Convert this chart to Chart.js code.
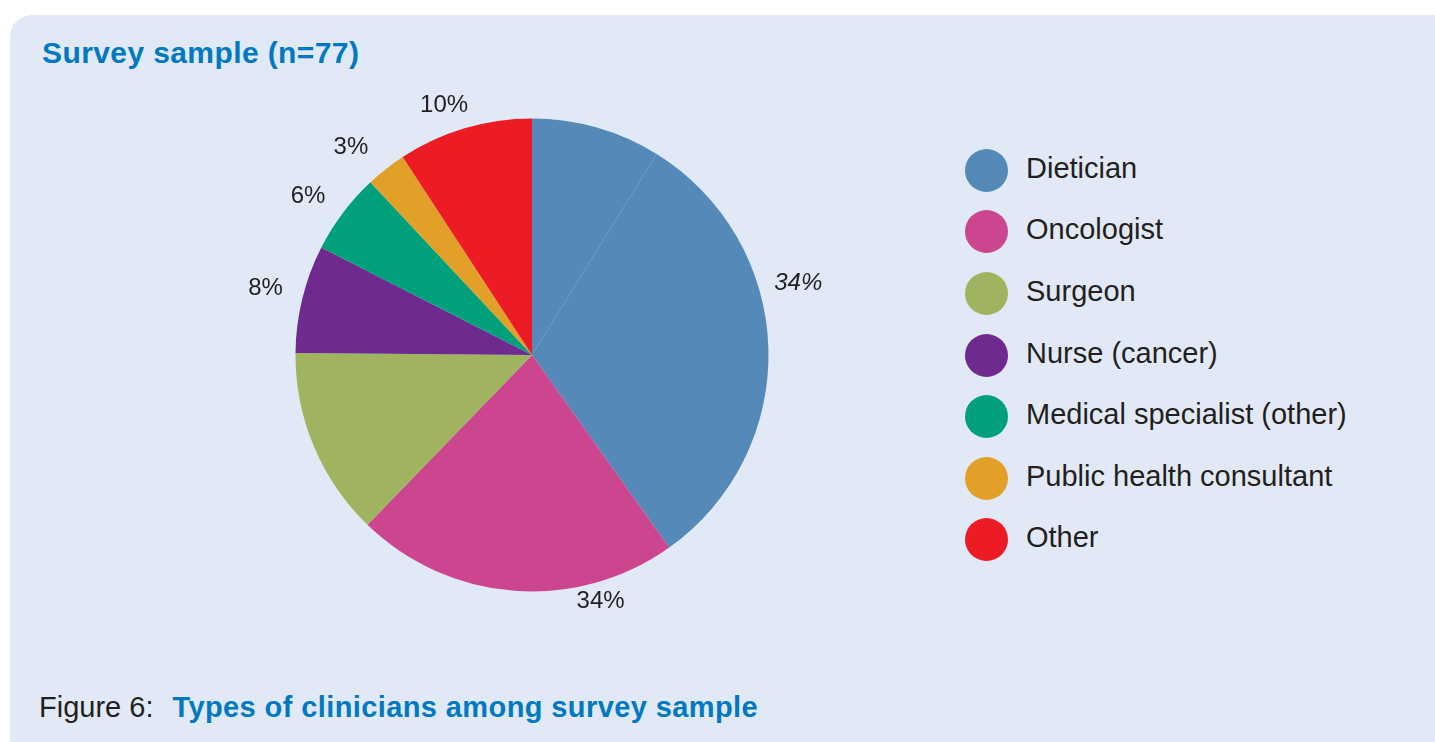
<!DOCTYPE html>
<html lang="en">
<head>
    <meta charset="UTF-8">
    <meta name="viewport" content="width=device-width, initial-scale=1.0">
    <title>Types of clinicians among survey sample</title>
    <style>
        :root {
            --panel-color: #e1e9f6;
            --title-color: #0079c2;
            --text-color: #231f20;
        }
        body {
            margin: 0;
            width: 1435px;
            height: 742px;
            overflow: hidden;
            background: #ffffff;
            font-family: 'Liberation Sans', Arial, sans-serif;
            color: var(--text-color);
        }
        .panel {
            position: absolute;
            left: 10px;
            top: 15px;
            right: 0;
            bottom: 0;
            background: var(--panel-color);
            border-top-left-radius: 22px;
        }
        .title {
            position: absolute;
            left: 42px;
            top: 38px;
            font-size: 30px;
            line-height: 30px;
            font-weight: bold;
            letter-spacing: 0.4px;
            color: var(--title-color);
            white-space: nowrap;
        }
        .chart-box {
            position: absolute;
            left: 201px;
            top: 70px;
            width: 662px;
            height: 570px;
        }
        #legend {
            position: absolute;
            left: 965px;
            top: 139.5px;
        }
        #legend ul {
            list-style: none;
            margin: 0;
            padding: 0;
        }
        #legend li {
            display: flex;
            align-items: center;
            height: 61.6px;
            font-size: 29px;
            white-space: nowrap;
        }
        #legend .dot {
            width: 43px;
            height: 43px;
            border-radius: 50%;
            margin-right: 18px;
            flex: none;
        }
        #legend .name {
            position: relative;
            top: -2px;
        }
        .caption {
            position: absolute;
            left: 39px;
            top: 693px;
            font-size: 29px;
            line-height: 29px;
            white-space: nowrap;
        }
        .caption b {
            margin-left: 19px;
            letter-spacing: 0.4px;
            color: var(--title-color);
        }
    </style>
    <script src="https://cdn.jsdelivr.net/npm/chart.js@4/dist/chart.umd.min.js"></script>
</head>
<body>
    <div class="panel"></div>
    <div class="title">Survey sample (n=77)</div>
    <div class="chart-box"><canvas id="clinicianPie"></canvas></div>
    <div id="legend"></div>
    <div class="caption">Figure 6:<b>Types of clinicians among survey sample</b></div>

    <script>
        // Dietician is drawn as two touching blue pieces, hence the repeated name
        const categories = ['Dietician', 'Dietician', 'Oncologist', 'Surgeon', 'Nurse (cancer)',
            'Medical specialist (other)', 'Public health consultant', 'Other'];
        const shares = [9.6, 34, 24, 14, 8, 6, 3, 10];
        const sliceColours = ['#5589b8', '#5589b8', '#cb468f', '#a0b45f', '#6e2a8f',
            '#00a07a', '#e3a028', '#ed1c24'];

        // Where the percentage labels sit: slice index, angle clockwise from 12 o'clock, distance from centre
        const labelSpots = [
            { index: 1, angle: 74.7, dist: 276, italic: true },
            { index: 1, angle: 164.4, dist: 255 },
            { index: 4, angle: 284.3, dist: 275 },
            { index: 5, angle: 305.5, dist: 275 },
            { index: 6, angle: 319.0, dist: 276 },
            { index: 7, angle: 340.7, dist: 266 }
        ];

        // Builds the legend as a plain list next to the canvas, one row per category
        const htmlLegend = {
            id: 'htmlLegend',
            afterUpdate(chart) {
                const box = document.getElementById('legend');
                box.innerHTML = '';
                const ul = document.createElement('ul');
                const seen = new Set();
                chart.options.plugins.legend.labels.generateLabels(chart).forEach(item => {
                    if (seen.has(item.text)) return;
                    seen.add(item.text);
                    const li = document.createElement('li');
                    const dot = document.createElement('span');
                    dot.className = 'dot';
                    dot.style.background = item.fillStyle;
                    const name = document.createElement('span');
                    name.className = 'name';
                    name.textContent = item.text;
                    li.appendChild(dot);
                    li.appendChild(name);
                    ul.appendChild(li);
                });
                box.appendChild(ul);
            }
        };

        // Writes "n%" outside the pie for the slices that carry a label
        const sliceLabels = {
            id: 'sliceLabels',
            afterDatasetsDraw(chart, args, opts) {
                const arc = chart.getDatasetMeta(0).data[0];
                const { x, y } = arc;
                const ctx = chart.ctx;
                ctx.save();
                ctx.fillStyle = opts.color;
                ctx.textAlign = 'center';
                ctx.textBaseline = 'middle';
                opts.spots.forEach(spot => {
                    const rad = spot.angle * Math.PI / 180;
                    const value = chart.data.datasets[0].data[spot.index];
                    ctx.font = (spot.italic ? 'italic ' : '') + opts.font;
                    ctx.fillText(value + '%', x + spot.dist * Math.sin(rad), y - spot.dist * Math.cos(rad) + 1);
                });
                ctx.restore();
            }
        };

        new Chart(document.getElementById('clinicianPie'), {
            type: 'pie',
            data: {
                labels: categories,
                datasets: [{
                    data: shares,
                    backgroundColor: sliceColours,
                    borderWidth: 0,
                    hoverOffset: 0
                }]
            },
            options: {
                responsive: true,
                maintainAspectRatio: false,
                animation: false,
                radius: 236.5,
                layout: { padding: 0 },
                plugins: {
                    legend: { display: false },
                    tooltip: { enabled: false },
                    sliceLabels: {
                        spots: labelSpots,
                        font: '24px "Liberation Sans", Arial, sans-serif',
                        color: '#231f20'
                    }
                }
            },
            plugins: [htmlLegend, sliceLabels]
        });
    </script>
</body>
</html>
